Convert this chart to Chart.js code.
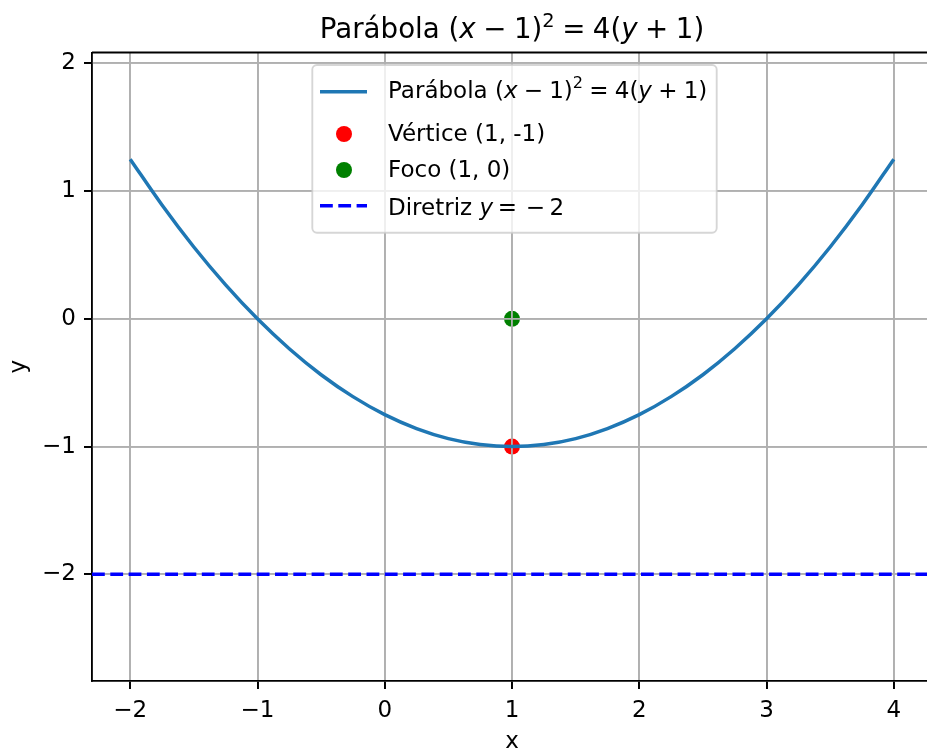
<!DOCTYPE html>
<html>
<head>
<meta charset="utf-8">
<script src="https://cdn.jsdelivr.net/npm/chart.js@4.4.0/dist/chart.umd.min.js"></script>
<style>
  html, body { margin: 0; padding: 0; background: #fff; overflow: hidden; }
  #wrap { width: 927px; height: 751px; overflow: hidden; }
</style>
</head>
<body>
<div id="wrap"><canvas id="myChart" width="940" height="751"></canvas></div>
<script>
// valores
const parabolaX = [-2, -1.75, -1.5, -1.25, -1, -0.75, -0.5, -0.25, 0, 0.25, 0.5, 0.75, 1,
                   1.25, 1.5, 1.75, 2, 2.25, 2.5, 2.75, 3, 3.25, 3.5, 3.75, 4];
const parabolaY = [1.25, 0.891, 0.5625, 0.266, 0, -0.234, -0.4375, -0.609, -0.75, -0.859, -0.9375, -0.984, -1,
                   -0.984, -0.9375, -0.859, -0.75, -0.609, -0.4375, -0.234, 0, 0.266, 0.5625, 0.891, 1.25];
const vertice = [1, -1];
const foco = [1, 0];
const diretrizY = -2;
const xLimits = [-2.3, 4.3];
const yLimits = [-2.835, 2.085];
const xTicks = [-2, -1, 0, 1, 2, 3, 4];
const yTicks = [-2, -1, 0, 1, 2];

const FONT = 'DejaVu Sans';
const fmt = v => (v < 0 ? '\u2212' + Math.abs(v) : String(v));

// texto com partes em itálico / expoente (estilo mathtext)
function font(style, size) {
  if (style === 'i') return 'italic ' + size + 'px "' + FONT + '"';
  if (style === 's') return (size * 0.7) + 'px "' + FONT + '"';
  return size + 'px "' + FONT + '"';
}
function richWidth(ctx, segs, size) {
  let w = 0;
  for (const s of segs) {
    if (typeof s === 'number') { w += s * size; continue; }
    ctx.font = font(s[1], size);
    w += ctx.measureText(s[0]).width;
  }
  return w;
}
function drawRich(ctx, segs, x, y, size, align) {
  let cx = align === 'center' ? x - richWidth(ctx, segs, size) / 2 : x;
  ctx.textAlign = 'left';
  ctx.textBaseline = 'alphabetic';
  for (const s of segs) {
    if (typeof s === 'number') { cx += s * size; continue; }
    ctx.font = font(s[1], size);
    ctx.fillText(s[0], cx, s[1] === 's' ? y - size * 0.42 : y);
    cx += ctx.measureText(s[0]).width;
  }
}

const G = 0.27;
const eqParabola = [['(', 'n'], ['x', 'i'], G, ['\u2212', 'n'], G, ['1', 'n'], [')', 'n'], ['2', 's'],
                    G, ['=', 'n'], G, ['4', 'n'], ['(', 'n'], ['y', 'i'], G, ['+', 'n'], G, ['1', 'n'], [')', 'n']];
const titulo = [['Parábola ', 'n']].concat(eqParabola);
const legendRows = [
  { kind: 'line', color: '#1f77b4', y: 91.7, base: 97.7, segs: [['Parábola ', 'n']].concat(eqParabola) },
  { kind: 'dot', color: '#ff0000', y: 134, base: 141, segs: [['Vértice (1, -1)', 'n']] },
  { kind: 'dot', color: '#008000', y: 170, base: 177, segs: [['Foco (1, 0)', 'n']] },
  { kind: 'dash', color: '#0000ff', y: 205.7, base: 215, segs: [['Diretriz ', 'n'], ['y', 'i'], 0.2, ['=', 'n'], 0.38, ['\u2212', 'n'], 0.2, ['2', 'n']] }
];

const decor = {
  id: 'decor',
  afterDatasetDraw(chart, args) {
    // grade por cima dos pontos (como no matplotlib)
    if (args.index === 2) {
      chart.scales.x.drawGrid(chart.chartArea);
      chart.scales.y.drawGrid(chart.chartArea);
    }
  },
  afterDraw(chart) {
    const ctx = chart.ctx;
    const a = chart.chartArea;
    ctx.save();
    // borda superior
    ctx.strokeStyle = '#000';
    ctx.lineWidth = 1.85;
    ctx.beginPath();
    ctx.moveTo(a.left, a.top);
    ctx.lineTo(a.right, a.top);
    ctx.stroke();

    ctx.fillStyle = '#000';
    drawRich(ctx, titulo, (a.left + a.right) / 2, 38.3, 27.7, 'center');
    ctx.font = '23px "' + FONT + '"';
    ctx.textAlign = 'center';
    ctx.fillText('x', (a.left + a.right) / 2, 748);
    ctx.save();
    ctx.translate(25, (a.top + a.bottom) / 2);
    ctx.rotate(-Math.PI / 2);
    ctx.fillText('y', 0, 0);
    ctx.restore();

    // legenda
    const L = 312.3, T = 65, R = 716.7, B = 232.7, r = 4.6;
    ctx.beginPath();
    ctx.roundRect(L, T, R - L, B - T, r);
    ctx.fillStyle = 'rgba(255,255,255,0.8)';
    ctx.fill();
    ctx.strokeStyle = 'rgba(204,204,204,0.8)';
    ctx.lineWidth = 1.85;
    ctx.stroke();
    for (const row of legendRows) {
      ctx.strokeStyle = row.color;
      ctx.fillStyle = row.color;
      if (row.kind === 'dot') {
        ctx.beginPath();
        ctx.arc(344, row.y, 8, 0, Math.PI * 2);
        ctx.fill();
      } else {
        ctx.lineWidth = 3.5;
        ctx.setLineDash(row.kind === 'dash' ? [12.8, 5.5] : []);
        ctx.beginPath();
        ctx.moveTo(320, row.y);
        ctx.lineTo(367, row.y);
        ctx.stroke();
        ctx.setLineDash([]);
      }
      ctx.fillStyle = '#000';
      drawRich(ctx, row.segs, 388, row.base, 23, 'left');
    }
    ctx.restore();
  }
};

const tickFont = { family: FONT, size: 23 };
const grid = { color: '#b0b0b0', lineWidth: 1.85, tickColor: '#000', tickWidth: 1.85, tickLength: 8 };

const myChart = new Chart(document.getElementById('myChart'), {
  type: 'scatter',
  data: {
    datasets: [
      {
        label: 'Parábola',
        data: parabolaX.map((x, i) => ({ x: x, y: parabolaY[i] })),
        showLine: true, pointRadius: 0, borderColor: '#1f77b4', borderWidth: 3.5,
        cubicInterpolationMode: 'monotone'
      },
      {
        label: 'Diretriz',
        data: [{ x: xLimits[0], y: diretrizY }, { x: xLimits[1], y: diretrizY }],
        showLine: true, pointRadius: 0, borderColor: '#0000ff', borderWidth: 3.5,
        borderDash: [12.8, 5.5]
      },
      {
        label: 'Vértice',
        data: [{ x: vertice[0], y: vertice[1] }],
        pointRadius: 8, backgroundColor: '#ff0000', borderWidth: 0
      },
      {
        label: 'Foco',
        data: [{ x: foco[0], y: foco[1] }],
        pointRadius: 8, backgroundColor: '#008000', borderWidth: 0
      }
    ]
  },
  options: {
    responsive: false,
    animation: false,
    devicePixelRatio: 1,
    layout: { padding: { top: 52.5, right: 5, left: 0, bottom: 0 } },
    plugins: { legend: { display: false }, title: { display: false }, tooltip: { enabled: false } },
    scales: {
      x: {
        type: 'linear', min: xLimits[0], max: xLimits[1],
        afterBuildTicks: s => { s.ticks = xTicks.map(v => ({ value: v })); },
        afterFit: s => { s.height = 70; s.paddingLeft = 0; s.paddingRight = 0; },
        ticks: { font: tickFont, color: '#000', padding: 8, maxRotation: 0, callback: fmt },
        grid: grid,
        border: { color: '#000', width: 1.85 }
      },
      y: {
        type: 'linear', min: yLimits[0], max: yLimits[1],
        afterBuildTicks: s => { s.ticks = yTicks.map(v => ({ value: v })); },
        afterFit: s => { s.width = 92; s.paddingTop = 0; s.paddingBottom = 0; },
        ticks: { font: tickFont, color: '#000', padding: 8, callback: fmt },
        grid: grid,
        border: { color: '#000', width: 1.85 }
      }
    }
  },
  plugins: [decor]
});
</script>
</body>
</html>
